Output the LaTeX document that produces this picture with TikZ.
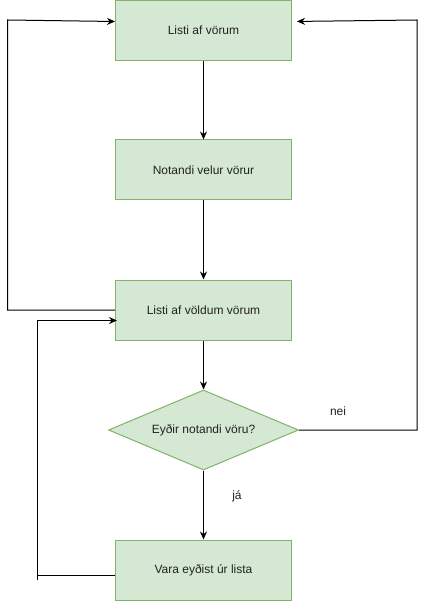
\documentclass[tikz,border=0pt]{standalone}
\usepackage{fontspec}
\setmainfont{Liberation Sans}
\usetikzlibrary{shapes.geometric,arrows.meta}
\definecolor{boxfill}{HTML}{D5E8D4}
\definecolor{boxdraw}{HTML}{82B366}
\definecolor{txt}{HTML}{222222}
\begin{document}
\begin{tikzpicture}[x=1pt,y=-1pt,
  stepbox/.style={draw=boxdraw,fill=boxfill,line width=1pt,minimum width=176pt,minimum height=60pt,inner sep=0pt,font=\fontsize{12}{14}\selectfont,text=txt},
  decbox/.style={diamond,draw=boxdraw,fill=boxfill,line width=1pt,aspect=2.375,minimum width=190pt,minimum height=80pt,inner sep=0pt,font=\fontsize{12}{14}\selectfont,text=txt},
  lbl/.style={font=\fontsize{12}{14}\selectfont,text=txt,inner sep=0pt},
  conn/.style={line width=1pt,-{Stealth[length=8pt,width=7pt]}}]
\useasboundingbox (0,0) rectangle (427,601);
\node[stepbox] (b1) at (203.5,30.5) {Listi af vörum};
\node[stepbox] (b2) at (203.5,170) {Notandi velur vörur};
\node[stepbox] (b3) at (203.5,310) {Listi af völdum vörum};
\node[decbox] (d) at (203.5,430) {Eyðir notandi vöru?};
\node[stepbox] (b4) at (203.5,570) {Vara eyðist úr lista};
\draw[conn] (b1) -- (b2);
\draw[conn] (b2) -- (b3);
\draw[conn] (b3) -- (d);
\draw[conn] (d) -- (b4);
\draw[conn] (b3.west) -| (7.5,20) -- ([yshift=9pt]b1.west);
\draw[conn,shorten >=5pt] (d.east) -| (417,20) -- ([yshift=9pt]b1.east);
\draw[conn] ([yshift=-5pt]b4.west) -| (37,320.5) -- ([yshift=-10.5pt,xshift=2pt]b3.west);
\draw[line width=1pt] (37,575) -- (37,580);
\node[lbl] (nei) at (338,411) {nei};
\node[lbl] (ja) at (237,496) {já};
\end{tikzpicture}
\end{document}
